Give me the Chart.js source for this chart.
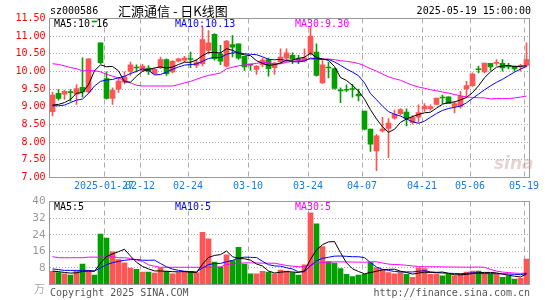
<!DOCTYPE html>
<html><head><meta charset="utf-8">
<script src="https://cdn.jsdelivr.net/npm/chart.js@4/dist/chart.umd.min.js"></script>
<style>
html,body{margin:0;padding:0;background:#fff;width:545px;height:300px;overflow:hidden}
#wrap{position:relative;width:545px;height:300px}
canvas{position:absolute;left:0}
#k{top:0}
#v{top:190px}
</style></head><body>
<div id="wrap"><canvas id="k"></canvas><canvas id="v"></canvas></div>
<script>
// ---- data ----
const dates = [
 '2025-01-14','2025-01-15','2025-01-16','2025-01-17','2025-01-20','2025-01-21','2025-01-22','2025-01-23','2025-01-24','2025-01-27',
 '2025-02-05','2025-02-06','2025-02-07','2025-02-10','2025-02-11','2025-02-12','2025-02-13','2025-02-14','2025-02-17','2025-02-18',
 '2025-02-19','2025-02-20','2025-02-21','2025-02-24','2025-02-25','2025-02-26','2025-02-27','2025-02-28','2025-03-03','2025-03-04',
 '2025-03-05','2025-03-06','2025-03-07','2025-03-10','2025-03-11','2025-03-12','2025-03-13','2025-03-14','2025-03-17','2025-03-18',
 '2025-03-19','2025-03-20','2025-03-21','2025-03-24','2025-03-25','2025-03-26','2025-03-27','2025-03-28','2025-03-31','2025-04-01',
 '2025-04-02','2025-04-03','2025-04-07','2025-04-08','2025-04-09','2025-04-10','2025-04-11','2025-04-14','2025-04-15','2025-04-16',
 '2025-04-17','2025-04-18','2025-04-21','2025-04-22','2025-04-23','2025-04-24','2025-04-25','2025-04-28','2025-04-29','2025-04-30',
 '2025-05-06','2025-05-07','2025-05-08','2025-05-09','2025-05-12','2025-05-13','2025-05-14','2025-05-15','2025-05-16','2025-05-19'];

const opens = [
 8.86,9.38,9.36,9.40,9.36,9.55,9.42,11.40,10.81,9.80,
 9.24,9.50,9.70,10.00,10.11,10.03,10.10,9.94,10.11,10.34,
 9.99,10.29,10.32,10.35,10.17,10.22,10.60,11.05,10.50,10.15,
 10.76,10.78,10.43,10.19,10.06,10.19,10.34,10.11,10.27,10.38,
 10.46,10.36,10.30,10.50,10.55,9.68,10.11,10.08,9.46,9.48,
 9.50,9.36,8.88,8.37,7.75,8.32,8.39,8.68,8.81,8.85,
 8.56,8.71,8.94,8.95,9.07,9.26,9.28,9.01,9.01,9.51,
 9.60,10.06,9.99,10.23,10.23,10.23,10.17,10.15,10.13,10.17];
const highs = [
 9.42,9.49,9.47,9.49,9.63,10.39,10.36,11.40,10.81,9.99,
 9.54,9.80,9.99,10.27,10.19,10.20,10.17,10.10,10.41,10.36,
 10.31,10.38,10.43,10.55,10.34,11.26,11.16,11.07,10.74,10.88,
 11.02,10.78,10.43,10.20,10.17,10.38,10.38,10.27,10.64,10.64,
 10.53,10.46,10.64,11.25,10.78,10.31,10.27,10.10,9.54,9.62,
 9.64,9.50,8.88,8.37,8.22,8.70,8.67,8.91,8.95,8.94,
 8.75,9.06,9.09,9.06,9.25,9.33,9.28,9.15,9.44,9.72,
 9.96,10.15,10.24,10.23,10.34,10.34,10.23,10.15,10.20,10.81];
const lows = [
 8.74,9.19,9.21,9.16,9.07,9.27,9.38,11.40,10.22,9.22,
 9.07,9.41,9.65,9.89,9.99,10.00,9.92,9.92,10.08,9.89,
 9.96,10.27,10.27,10.11,10.11,10.16,10.50,10.32,10.19,10.13,
 10.41,10.34,10.03,10.03,9.92,10.13,9.87,9.92,10.22,10.27,
 10.22,10.22,10.27,10.46,9.87,9.66,9.82,9.50,9.12,9.43,
 9.27,9.17,8.35,7.74,7.19,8.28,7.56,8.65,8.77,8.46,
 8.51,8.56,8.87,8.90,9.06,9.09,9.09,8.83,8.96,9.25,
 9.58,9.96,9.96,10.03,10.17,10.01,10.07,10.01,10.01,10.13];
const closes = [
 9.33,9.24,9.44,9.40,9.52,9.42,10.36,11.40,10.25,9.24,
 9.47,9.73,9.85,10.19,10.10,10.15,10.00,10.06,10.34,9.94,
 10.29,10.36,10.38,10.34,10.27,10.90,10.81,10.36,10.29,10.86,
 10.69,10.38,10.13,10.18,10.15,10.32,10.08,10.24,10.41,10.53,
 10.36,10.32,10.39,11.00,9.89,10.19,10.10,9.52,9.45,9.47,
 9.49,9.31,8.37,7.94,8.18,8.37,8.54,8.79,8.92,8.67,
 8.70,8.84,9.02,9.01,9.25,9.25,9.09,9.09,9.30,9.60,
 9.93,10.05,10.24,10.13,10.26,10.10,10.13,10.07,10.17,10.34];
const volumes = [
 6.4,5.7,5.1,4.6,6.4,9.8,6.4,4.6,24.3,22.4,
 15.8,12.0,10.4,7.9,7.3,6.0,6.0,5.5,7.9,6.4,
 5.1,5.7,6.0,6.4,5.7,25.1,22.0,10.8,8.4,14.3,
 11.5,17.9,9.9,5.1,5.1,6.4,6.0,5.1,7.0,6.5,
 5.7,4.5,9.5,34.5,29.2,18.3,11.1,10.3,7.7,4.9,
 3.8,4.6,4.9,10.6,8.0,7.2,5.8,5.2,5.8,4.9,
 3.4,8.0,7.7,4.9,5.2,4.2,4.9,4.2,4.9,6.0,
 6.5,6.5,5.2,4.9,4.9,3.4,4.2,2.6,3.0,12.3];

// moving-average values at the start of the window (need earlier sessions)
const ma5Head  = [9.05,9.07,9.12,9.21];
const ma10Head = [9.03,9.03,9.05,9.12,9.19,9.22,9.38,9.59,9.72];
const ma30Head = [10.22,10.20,10.16,10.11,10.08,10.02,10.02,10.02,9.99,9.92,
                  9.87,9.82,9.75,9.68,9.61,9.59,9.59,9.59,9.59,9.59,
                  9.59,9.63,9.68,9.72,9.78,9.84,9.89,9.92,9.96];
const vma5Head  = [6.5,6.2,5.8,5.5];
const vma10Head = [7.5,7.2,6.8,6.8,6.8,6.8,6.8,6.5,8.0];
const vma30Head = [13.4,12.9,12.9,12.9,12.9,12.9,13.2,13.2,13.2,13.2,
                   13.4,12.9,12.9,12.6,11.8,11.1,9.5,8.8,8.3,8.3,
                   8.3,8.3,8.3,8.3,8.3,8.3,8.3,8.3,8.5];

const priceTicks = [7.0,7.5,8.0,8.5,9.0,9.5,10.0,10.5,11.0,11.5];
const volTicks = [0,8,16,24,32,40];
const dateTickIdx = [9,15,23,33,43,52,62,70,79];
const dateTickText = ['2025-01-27','02-12','02-24','03-10','03-24','04-07','04-21','05-06','05-19'];
const headerText = {code:'sz000586', title:'汇源通信 - 日K线图', time:'2025-05-19 15:00:00'};
const priceLegend = ['MA5:10.16','MA10:10.13','MA30:9.30'];
const volLegend = ['MA5:5','MA10:5','MA30:5'];
const volUnit = '万';
const footLeft = 'Copyright 2025 SINA.COM';
const footRight = 'http://finance.sina.com.cn';

// ---- styling ----
const RED = '#ff5555', GREEN = '#00a000';
const MA_COLORS = ['#000000','#0000ff','#ff00ff'];
const MONO = '"DejaVu Sans Mono", monospace';

function movingAvg(src, n, head) {
  return src.map((_, i) => {
    if (i < head.length) return head[i];
    let s = 0; for (let j = i - n + 1; j <= i; j++) s += src[j];
    return s / n;
  });
}
const colors = closes.map((c, i) => c > opens[i] ? RED : GREEN);

function lineDs(data, color) {
  return {type:'line', data, borderColor:color, borderWidth:1, pointRadius:0, tension:0, order:0, fill:false};
}

function verticalGrid(chart) {
  const {ctx, chartArea:a, scales:{x}} = chart;
  const half = (x.getPixelForValue(1) - x.getPixelForValue(0)) / 2;
  ctx.save();
  ctx.strokeStyle = '#aaaaaa'; ctx.lineWidth = 1; ctx.setLineDash([5,4]);
  dateTickIdx.forEach(i => {
    const px = Math.round(x.getPixelForValue(i) - half) + 0.5;
    ctx.beginPath(); ctx.moveTo(px, a.top); ctx.lineTo(px, a.bottom); ctx.stroke();
  });
  ctx.restore();
}
function frame(chart) {
  const {ctx, chartArea:a} = chart;
  ctx.save(); ctx.strokeStyle = '#999999'; ctx.lineWidth = 1;
  ctx.strokeRect(a.left, a.top, a.right - a.left, a.bottom - a.top);
  ctx.restore();
}
function legendRow(ctx, texts, y) {
  const xs = [54, 175, 295];
  ctx.font = '10px ' + MONO; ctx.textBaseline = 'middle'; ctx.textAlign = 'left';
  texts.forEach((t, i) => { ctx.fillStyle = MA_COLORS[i]; ctx.fillText(t, xs[i], y); });
}

const kPlugin = {
  id:'kDecor',
  beforeDatasetsDraw(chart){ verticalGrid(chart); },
  afterDraw(chart){
    const {ctx, scales:{x}} = chart;
    frame(chart);
    const half = (x.getPixelForValue(1) - x.getPixelForValue(0)) / 2;
    ctx.save();
    ctx.font = '10px ' + MONO; ctx.textBaseline = 'middle'; ctx.textAlign = 'center';
    ctx.fillStyle = '#1c7bd6';
    dateTickIdx.forEach((i, k) => ctx.fillText(dateTickText[k], Math.round(x.getPixelForValue(i) - half), 186));
    legendRow(ctx, priceLegend, 24);
    ctx.fillStyle = '#000'; ctx.textAlign = 'left'; ctx.font = '10px ' + MONO;
    ctx.fillText(headerText.code, 50, 11);
    ctx.textAlign = 'right';
    ctx.fillText(headerText.time, 531, 11);
    ctx.textAlign = 'left';
    ctx.font = '13px "Noto Sans CJK SC"';
    ctx.fillText(headerText.title, 118, 11);
    ctx.font = 'italic bold 17px "DejaVu Sans"';
    ctx.fillStyle = 'rgba(200,160,160,0.45)';
    ctx.fillText('sina', 494, 165);
    ctx.restore();
  }
};
const vPlugin = {
  id:'vDecor',
  beforeDatasetsDraw(chart){ verticalGrid(chart); },
  afterDraw(chart){
    const {ctx, chartArea:a} = chart;
    frame(chart);
    ctx.save();
    legendRow(ctx, volLegend, 17);
    ctx.font = '10px ' + MONO; ctx.textBaseline = 'middle';
    ctx.fillStyle = '#555'; ctx.textAlign = 'left';
    ctx.fillText(footLeft, 50, 103);
    ctx.textAlign = 'right';
    ctx.fillText(footRight, 530, 103);
    ctx.fillStyle = '#aaa'; ctx.textAlign = 'right'; ctx.font = '11px "Noto Sans CJK SC"';
    ctx.fillText(volUnit, 45, a.bottom + 4);
    ctx.restore();
  }
};

const kc = document.getElementById('k');
kc.width = 545; kc.height = 195; kc.style.width='545px'; kc.style.height='195px';
new Chart(kc, {
  type:'bar',
  data:{
    labels:dates,
    datasets:[
      lineDs(movingAvg(closes,5,ma5Head), MA_COLORS[0]),
      lineDs(movingAvg(closes,10,ma10Head), MA_COLORS[1]),
      lineDs(movingAvg(closes,30,ma30Head), MA_COLORS[2]),
      {type:'bar', data:opens.map((o,i)=>[o,closes[i]]), backgroundColor:colors, barThickness:5, grouped:false, minBarLength:1, order:1},
      {type:'bar', data:lows.map((l,i)=>[l,highs[i]]), backgroundColor:colors, barThickness:1, grouped:false, minBarLength:1, order:2}
    ]
  },
  options:{
    responsive:false, animation:false, devicePixelRatio:1,
    layout:{padding:{top:18.5, bottom:17.5, right:15.5, left:0}},
    plugins:{legend:{display:false}, tooltip:{enabled:false}},
    scales:{
      x:{type:'category', offset:true, display:false},
      y:{min:7, max:11.5,
        afterBuildTicks:s=>{ s.ticks = priceTicks.map(v=>({value:v})); },
        afterFit:s=>{ s.width = 49.5; },
        ticks:{color:'#ff0000', font:{family:MONO, size:10}, padding:4, autoSkip:false, callback:v=>Number(v).toFixed(2)},
        grid:{color:'#aaaaaa', drawTicks:false, lineWidth:1},
        border:{display:false, dash:[1,2]}
      }
    }
  },
  plugins:[kPlugin]
});

const vc = document.getElementById('v');
vc.width = 545; vc.height = 110; vc.style.width='545px'; vc.style.height='110px';
new Chart(vc, {
  type:'bar',
  data:{
    labels:dates,
    datasets:[
      lineDs(movingAvg(volumes,5,vma5Head), MA_COLORS[0]),
      lineDs(movingAvg(volumes,10,vma10Head), MA_COLORS[1]),
      lineDs(movingAvg(volumes,30,vma30Head), MA_COLORS[2]),
      {type:'bar', data:volumes, backgroundColor:colors, barThickness:5, grouped:false, order:1}
    ]
  },
  options:{
    responsive:false, animation:false, devicePixelRatio:1,
    layout:{padding:{top:11.5, bottom:15.5, right:15.5, left:0}},
    plugins:{legend:{display:false}, tooltip:{enabled:false}},
    scales:{
      x:{type:'category', offset:true, display:false},
      y:{min:0, max:40,
        afterBuildTicks:s=>{ s.ticks = volTicks.map(v=>({value:v})); },
        afterFit:s=>{ s.width = 49.5; },
        ticks:{color:'#999999', font:{family:MONO, size:11}, padding:4, autoSkip:false, callback:v=> v === 0 ? '' : String(v)},
        grid:{color:'#aaaaaa', drawTicks:false, lineWidth:1},
        border:{display:false, dash:[1,2]}
      }
    }
  },
  plugins:[vPlugin]
});
</script>
</body></html>
